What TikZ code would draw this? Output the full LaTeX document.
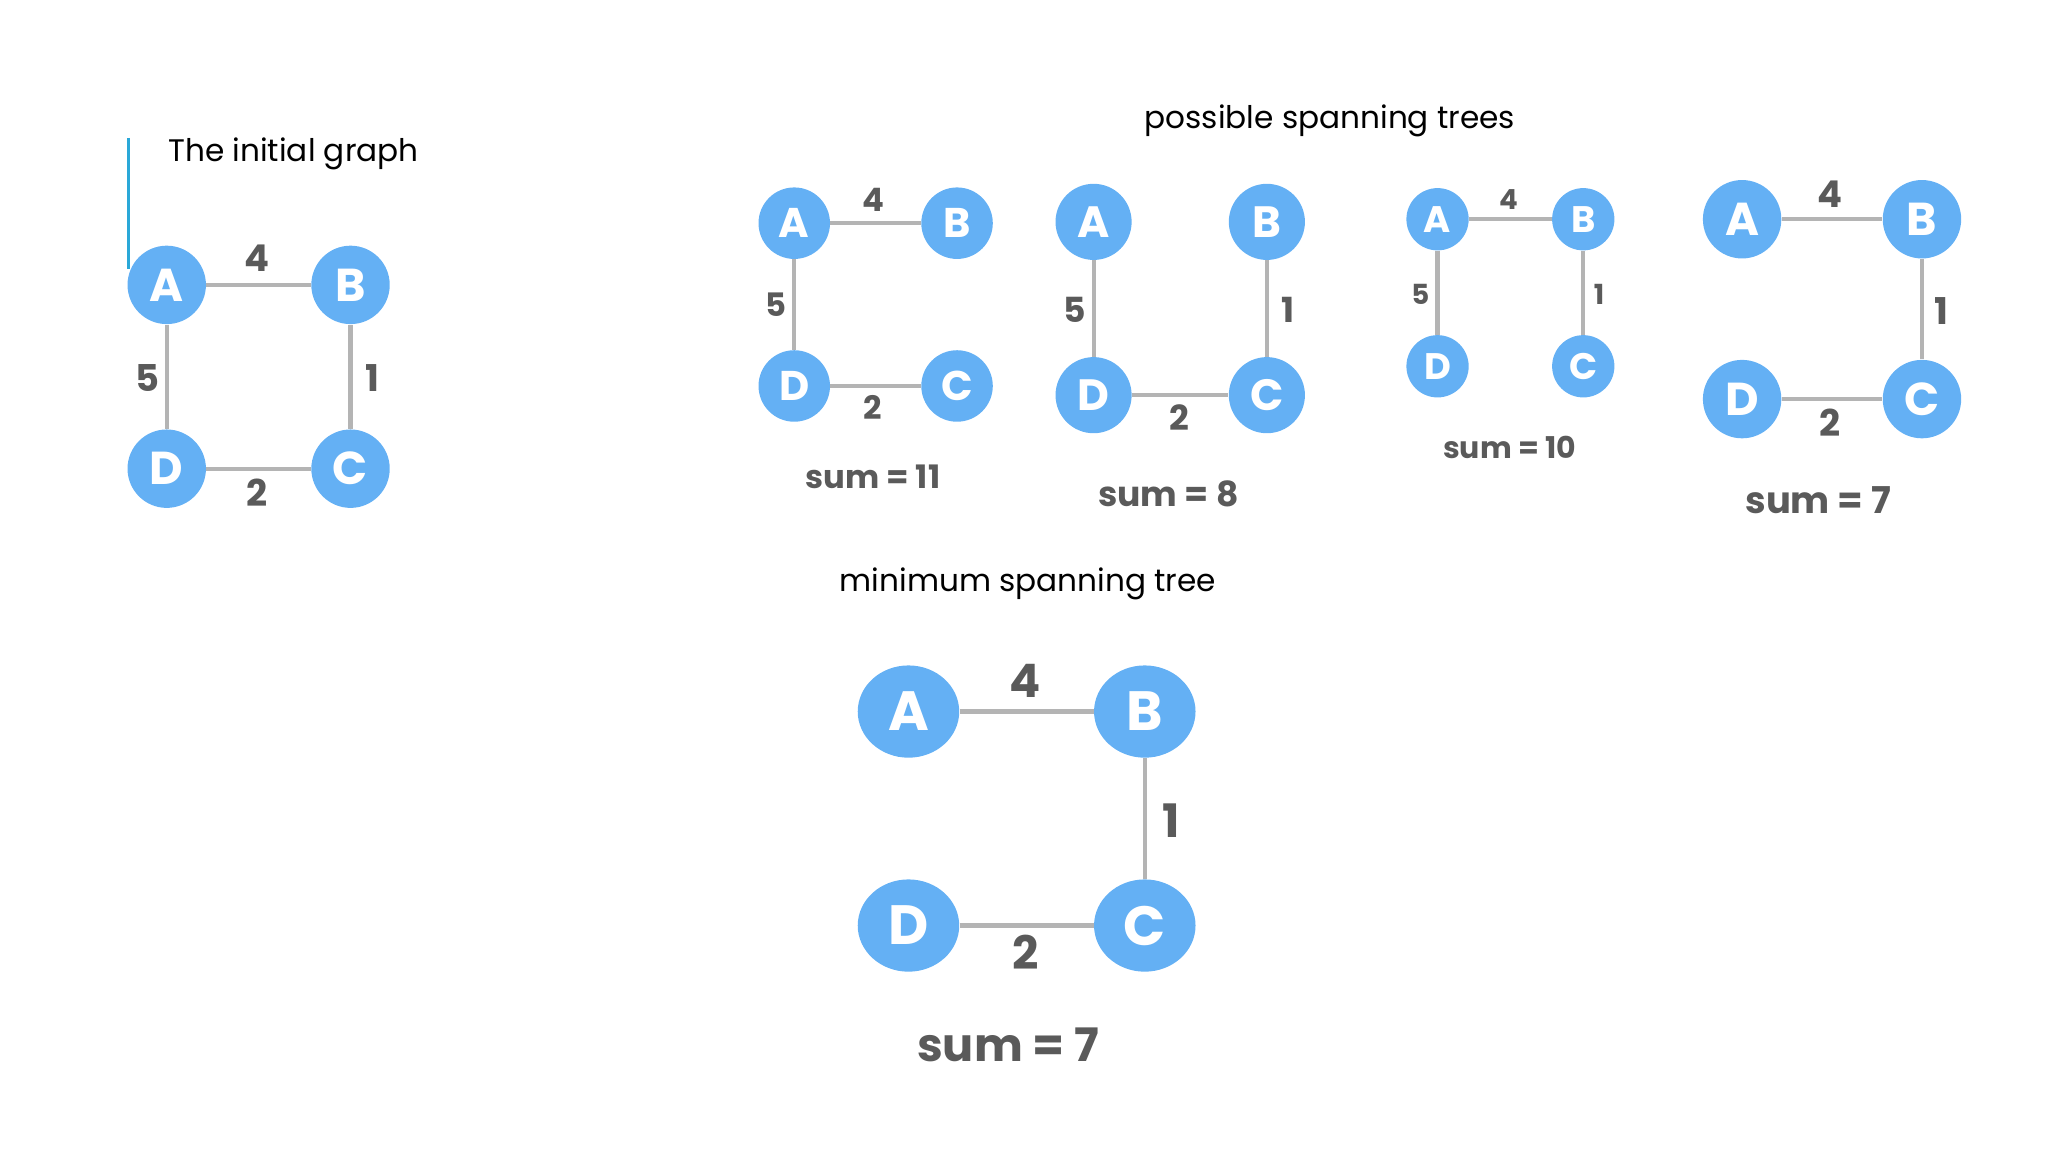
\documentclass[tikz,border=0pt]{standalone}
\usepackage{fontspec}
\usetikzlibrary{shapes.geometric}
\setmainfont{Poppins}
\definecolor{nb}{HTML}{64B0F4}
\definecolor{eg}{HTML}{B4B4B4}
\definecolor{lg}{HTML}{5A5A5A}
\definecolor{bl}{HTML}{2AA8D8}
\tikzset{
 v/.style 2 args={circle,fill=nb,text=white,inner sep=0pt,minimum size=#1,font=\bfseries\fontsize{#2}{1}\selectfont},
 ed/.style={draw=eg,line width=1.8pt},
 wl/.style={text=lg,font=\bfseries\fontsize{#1}{1}\selectfont},
 ttl/.style={font=\fontsize{13.5}{16}\selectfont,text=black}
}
\begin{document}
\begin{tikzpicture}[x=0.02cm,y=-0.02cm]
\useasboundingbox (0,0) rectangle (1560,877.5);
% initial graph
\draw[bl,line width=1.5pt] (98,105) -- (98,205);
\node[ttl,anchor=west] (t0) at (122,117) {The initial graph};
\node[v={34pt}{20}] (A0) at (127,217) {A};
\node[v={34pt}{20}] (B0) at (267,217) {B};
\node[v={34pt}{20}] (D0) at (127,357) {D};
\node[v={34pt}{20}] (C0) at (267,357) {C};
\draw[ed] (A0)--(B0); \draw[ed] (B0)--(C0); \draw[ed] (A0)--(D0); \draw[ed] (D0)--(C0);
\node[wl=16] (l01) at (196,197) {4};
\node[wl=16] (l02) at (284,288) {1};
\node[wl=16] (l03) at (112,288) {5};
\node[wl=16] (l04) at (196,375) {2};
\node[ttl] (t1) at (1013,92) {possible spanning trees};
% tree 1
\node[v={31pt}{18}] (A1) at (605,170) {A};
\node[v={31pt}{18}] (B1) at (729,170) {B};
\node[v={31pt}{18}] (D1) at (605,294) {D};
\node[v={31pt}{18}] (C1) at (729,294) {C};
\draw[ed] (A1)--(B1); \draw[ed] (A1)--(D1); \draw[ed] (D1)--(C1);
\node[wl=14] (l11) at (665,152) {4};
\node[wl=14] (l12) at (591,232) {5};
\node[wl=14] (l13) at (665,310) {2};
\node[wl=14] (s1) at (665,363) {sum = 11};
% tree 2
\node[v={33pt}{19}] (A2) at (833,169) {A};
\node[v={33pt}{19}] (B2) at (965,169) {B};
\node[v={33pt}{19}] (D2) at (833,301) {D};
\node[v={33pt}{19}] (C2) at (965,301) {C};
\draw[ed] (A2)--(D2); \draw[ed] (D2)--(C2); \draw[ed] (B2)--(C2);
\node[wl=15] (l21) at (819,236) {5};
\node[wl=15] (l22) at (981,236) {1};
\node[wl=15] (l23) at (898,318) {2};
\node[wl=15] (s2) at (890,376) {sum = 8};
% tree 3
\node[v={27pt}{16}] (A3) at (1095,167) {A};
\node[v={27pt}{16}] (B3) at (1206,167) {B};
\node[v={27pt}{16}] (D3) at (1095,279) {D};
\node[v={27pt}{16}] (C3) at (1206,279) {C};
\draw[ed] (A3)--(B3); \draw[ed] (A3)--(D3); \draw[ed] (B3)--(C3);
\node[wl=12] (l31) at (1149,152) {4};
\node[wl=12] (l32) at (1082,224) {5};
\node[wl=12] (l33) at (1218,224) {1};
\node[wl=13] (s3) at (1150,341) {sum = 10};
% tree 4
\node[v={34pt}{20}] (A4) at (1327,167) {A};
\node[v={34pt}{20}] (B4) at (1464,167) {B};
\node[v={34pt}{20}] (D4) at (1327,304) {D};
\node[v={34pt}{20}] (C4) at (1464,304) {C};
\draw[ed] (A4)--(B4); \draw[ed] (B4)--(C4); \draw[ed] (D4)--(C4);
\node[wl=16] (l41) at (1394,148) {4};
\node[wl=16] (l42) at (1479,237) {1};
\node[wl=16] (l43) at (1394,322) {2};
\node[wl=16] (s4) at (1385,381) {sum = 7};
% MST
\node[ttl] (t2) at (783,445) {minimum spanning tree};
\tikzset{mv/.style={ellipse,fill=nb,text=white,inner sep=0pt,minimum width=44pt,minimum height=40pt,font=\bfseries\fontsize{24}{1}\selectfont}}
\node[mv] (A5) at (692,542) {A};
\node[mv] (B5) at (872,542) {B};
\node[mv] (D5) at (692,705) {D};
\node[mv] (C5) at (872,705) {C};
\draw[ed] (A5)--(B5); \draw[ed] (B5)--(C5); \draw[ed] (D5)--(C5);
\node[wl=20] (l51) at (781,519) {4};
\node[wl=20] (l52) at (892,625) {1};
\node[wl=20] (l53) at (781,725) {2};
\node[wl=20] (s5) at (768,796) {sum = 7};
\end{tikzpicture}
\end{document}
